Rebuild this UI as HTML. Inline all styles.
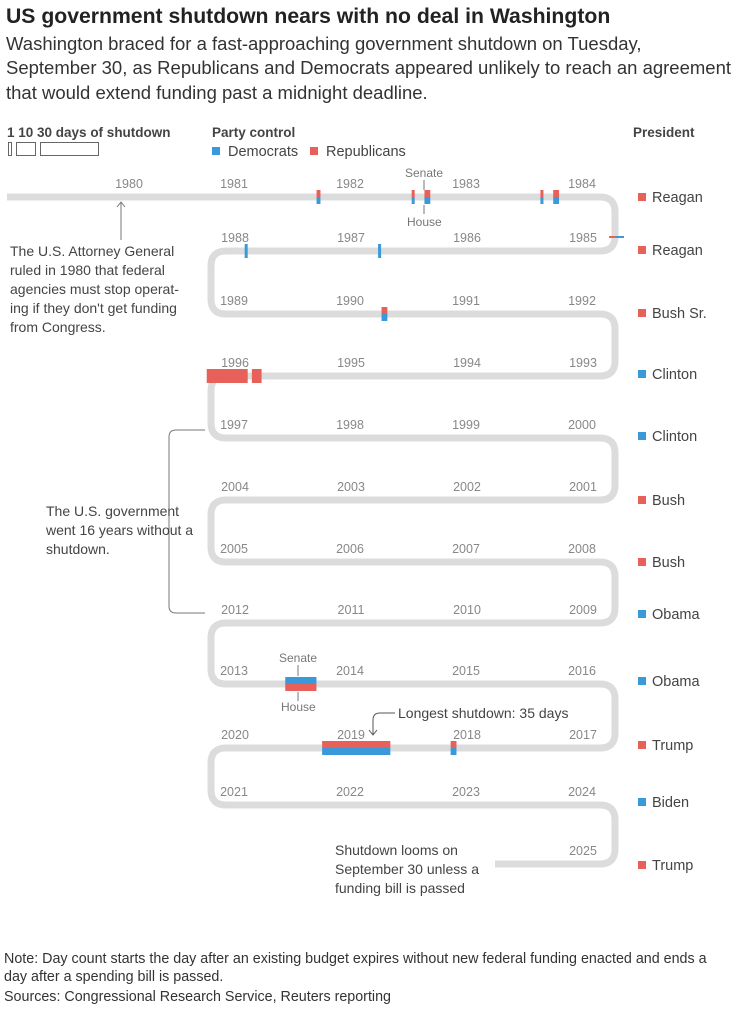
<!DOCTYPE html>
<html><head><meta charset="utf-8"><style>
body{margin:0;background:#fff;width:737px;height:1009px;overflow:hidden;font-family:"Liberation Sans",sans-serif}
svg text{font-family:"Liberation Sans",sans-serif}
</style></head><body>
<svg id="chart" width="737" height="1009">
<text x="6" y="23" font-size="21.2" font-weight="bold" fill="#222">US government shutdown nears with no deal in Washington</text>
<g font-size="18.5" fill="#333">
<text x="6" y="50">Washington braced for a fast-approaching government shutdown on Tuesday,</text>
<text x="6" y="74">September 30, as Republicans and Democrats appeared unlikely to reach an agreement</text>
<text x="6" y="99">that would extend funding past a midnight deadline.</text>
</g>
<g>
<text x="7" y="137" font-size="13.5" font-weight="bold" fill="#444">1 10  30 days of shutdown</text>
<rect x="8.5" y="142.5" width="3" height="13" fill="none" stroke="#666"/>
<rect x="16.5" y="142.5" width="19" height="13" fill="none" stroke="#666"/>
<rect x="40.5" y="142.5" width="58" height="13" fill="none" stroke="#666"/>
</g>
<g>
<text x="212" y="137" font-size="13.5" font-weight="bold" fill="#444">Party control</text>
<rect x="212" y="147" width="8" height="8" fill="#3a9ad9"/><text x="228" y="156" font-size="14.5" fill="#444">Democrats</text>
<rect x="310" y="147" width="8" height="8" fill="#e8605a"/><text x="326" y="156" font-size="14.5" fill="#444">Republicans</text>
</g>
<text x="633" y="137" font-size="13.5" font-weight="bold" fill="#444">President</text>
<g id="track"></g>
<g id="years" font-size="12.5" fill="#888"></g>
<g id="marks"></g>
<g id="pres" font-size="14.5" fill="#444"></g>
<g font-size="12" fill="#777">
<text x="405" y="177">Senate</text><line x1="424" y1="180" x2="424" y2="190" stroke="#777"/>
<text x="407" y="226">House</text><line x1="424" y1="205" x2="424" y2="214" stroke="#777"/>
<text x="279" y="662">Senate</text><line x1="298" y1="665" x2="298" y2="676" stroke="#777"/>
<text x="281" y="711">House</text><line x1="298" y1="692" x2="298" y2="701" stroke="#777"/>
</g>
<g>
<line x1="121" y1="203" x2="121" y2="240" stroke="#777"/><path d="M117 207 L121 202 L125 207" fill="none" stroke="#777"/>
<g font-size="14" fill="#444"><text x="10" y="256">The U.S. Attorney General</text><text x="10" y="275">ruled in 1980 that federal</text><text x="10" y="294">agencies must stop operat-</text><text x="10" y="313">ing if they don't get funding</text><text x="10" y="332">from Congress.</text></g>
</g>
<g>
<path d="M205 430 H176 Q169 430 169 437 V606 Q169 613 176 613 H205" fill="none" stroke="#777"/>
<g font-size="14" fill="#444"><text x="46" y="516">The U.S. government</text><text x="46" y="535">went 16 years without a</text><text x="46" y="554">shutdown.</text></g>
</g>
<g>
<path d="M395 713 H380 Q373 713 373 720 V734" fill="none" stroke="#555"/><path d="M369 730 L373 735 L377 730" fill="none" stroke="#555"/>
<text x="398" y="718" font-size="14" fill="#444">Longest shutdown: 35 days</text>
</g>
<g font-size="14" fill="#444"><text x="335" y="855">Shutdown looms on</text><text x="335" y="874">September 30 unless a</text><text x="335" y="893">funding bill is passed</text></g>
<g font-size="14.3" fill="#333">
<text x="4" y="963">Note: Day count starts the day after an existing budget expires without new federal funding enacted and ends a</text>
<text x="4" y="981">day after a spending bill is passed.</text>
<text x="4" y="1001">Sources: Congressional Research Service, Reuters reporting</text>
</g>
</svg>
<script>
const rowFirstYears=[1981,1985,1989,1993,1997,2001,2005,2009,2013,2017,2021,2025];
const rowYearLists=[[1980,1981,1982,1983,1984],[1985,1986,1987,1988],[1989,1990,1991,1992],[1993,1994,1995,1996],[1997,1998,1999,2000],[2001,2002,2003,2004],[2005,2006,2007,2008],[2009,2010,2011,2012],[2013,2014,2015,2016],[2017,2018,2019,2020],[2021,2022,2023,2024],[2025]];
const presidents=["Reagan","Reagan","Bush Sr.","Clinton","Clinton","Bush","Bush","Obama","Obama","Trump","Biden","Trump"];
const presParty=["R","R","R","D","D","R","R","D","D","R","D","R"];
// shutdowns: start (decimal year as drawn), days, senate party, house party
const shutStart=[1981.91,1982.73,1982.84,1983.84,1983.95,1988.02,1986.87,1990.47,1995.90,1996.02,2013.64,2018.22,2018.79];
const shutDays=[2,1,3,1,3,1,1,3,5,21,16,3,35];
const shutSenate=["R","R","R","R","R","D","D","R","R","R","D","R","R"];
const shutHouse=["D","D","D","D","D","D","D","D","R","R","R","D","D"];

const NS="http://www.w3.org/2000/svg";
const rowY=[197,251,314,376,438,500,562,623,684,748,805,864];
const LEFT=211,RIGHT=615,YEARW=116,DAYW=1.95;
const COL={D:"#3a9ad9",R:"#e8605a"};
function rowOf(t){let r=0;for(let i=0;i<rowFirstYears.length;i++){if(Math.floor(t)>=rowFirstYears[i])r=i;}return r;}
function xOf(t){const r=rowOf(t);const d=t-rowFirstYears[r];return r%2===0?LEFT+d*YEARW:598-d*YEARW;}
function el(tag,attrs,parent){const e=document.createElementNS(NS,tag);for(const k in attrs)e.setAttribute(k,attrs[k]);parent.appendChild(e);return e;}
let d="M7 "+rowY[0]+" H"+(RIGHT-15);
for(let r=1;r<rowY.length;r++){const y0=rowY[r-1],y1=rowY[r];
 if(r%2===1){d+=" Q"+RIGHT+" "+y0+" "+RIGHT+" "+(y0+15)+" V"+(y1-15)+" Q"+RIGHT+" "+y1+" "+(RIGHT-15)+" "+y1+(r===rowY.length-1?" H495":" H"+(LEFT+15));}
 else{d+=" Q"+LEFT+" "+y0+" "+LEFT+" "+(y0+15)+" V"+(y1-15)+" Q"+LEFT+" "+y1+" "+(LEFT+15)+" "+y1+" H"+(RIGHT-15);}}
const tr=document.getElementById("track");
const p=el("path",{d:d,fill:"none",stroke:"#dcdcdc","stroke-width":7},tr);


const yg=document.getElementById("years");
rowYearLists.forEach((ys,r)=>{ys.forEach(y=>{let x;
 if(y===1980)x=129;else x=r%2===0?xOf(y)+23:xOf(y)-15;
 const t=el("text",{x:x,y:rowY[r]-9,"text-anchor":"middle"},yg);t.textContent=y;
 
 });});
const mg=document.getElementById("marks");
shutStart.forEach((s,i)=>{const r=rowOf(s);const w=Math.max(3,shutDays[i]*DAYW);const x0=xOf(s);const x=r%2===0?x0:x0-w;const y=rowY[r];
 const a=el("rect",{x:x,y:y-7,width:w,height:7,fill:COL[shutSenate[i]]},mg);
 
 
 const b=el("rect",{x:x,y:y,width:w,height:7,fill:COL[shutHouse[i]]},mg);
 
 });
const m1=el("rect",{x:609,y:236,width:7,height:2,fill:"#e8605a"},mg);
const m2=el("rect",{x:616,y:236,width:8,height:2,fill:"#3a9ad9"},mg);
const pg=document.getElementById("pres");
const presY=[197,250,313,374,436,500,562,614,681,745,802,865];
presidents.forEach((n,i)=>{const sq=el("rect",{x:638,y:presY[i]-4,width:8,height:8,fill:COL[presParty[i]]},pg);
 
 
 const t=el("text",{x:652,y:presY[i]+5},pg);t.textContent=n;
 
 });
</script>
</body></html>
